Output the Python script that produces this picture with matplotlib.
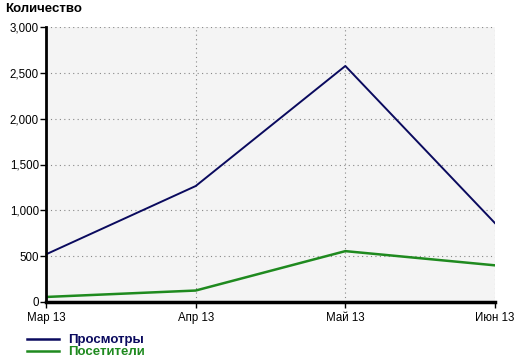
import matplotlib
matplotlib.use("Agg")
import matplotlib.pyplot as plt
from matplotlib.lines import Line2D
from matplotlib.ticker import FuncFormatter

months = ["Мар 13", "Апр 13", "Май 13", "Июн 13"]
views = [520, 1265, 2575, 860]
visitors = [55, 125, 555, 400]
yticks = [0, 500, 1000, 1500, 2000, 2500, 3000]

plt.rcParams["font.family"] = ["Liberation Sans", "DejaVu Sans"]

fig = plt.figure(figsize=(5.23, 3.62), dpi=100)
ax = fig.add_axes([46 / 523, 60 / 362, 449 / 523, 275 / 362])
ax.set_facecolor("#f4f4f4")

x = range(len(months))
ax.plot(x, views, color="#0a0a5e", lw=1.4)
ax.plot(x, visitors, color="#1f8a1f", lw=1.8)

ax.set_xlim(0, len(months) - 1)
ax.set_ylim(0, 3000)
ax.set_xticks(list(x))
ax.set_xticklabels(months, fontsize=8.3)
ax.set_yticks(yticks)
ax.yaxis.set_major_formatter(FuncFormatter(lambda v, p: f"{int(v):,}"))
ax.tick_params(axis="y", labelsize=8.3, length=4, width=1, pad=1)
ax.tick_params(axis="x", length=4, width=1, pad=3)
ax.grid(True, color="#888888", ls=(0, (1, 3)), lw=0.8)

for s in ["top", "right"]:
    ax.spines[s].set_visible(False)
ax.spines["left"].set_linewidth(2)
ax.spines["bottom"].set_linewidth(2.5)

fig.text(5 / 523, 1 - 9 / 362, "Количество", fontsize=9.5, fontweight="bold",
         va="center", ha="left")

handles = [Line2D([], [], color="#0a0a5e", lw=1.8),
           Line2D([], [], color="#1f8a1f", lw=1.8)]
leg = fig.legend(handles, ["Просмотры", "Посетители"], loc="upper left",
                 bbox_to_anchor=(27 / 523, 1 - 334 / 362), frameon=False,
                 fontsize=9.5, handlelength=2.4, handletextpad=0.7,
                 labelspacing=0.0, borderpad=0, borderaxespad=0)
for t, c in zip(leg.get_texts(), ["#0a0a5e", "#1f8a1f"]):
    t.set_color(c)
    t.set_fontweight("bold")

fig.savefig("out.png", dpi=100)
